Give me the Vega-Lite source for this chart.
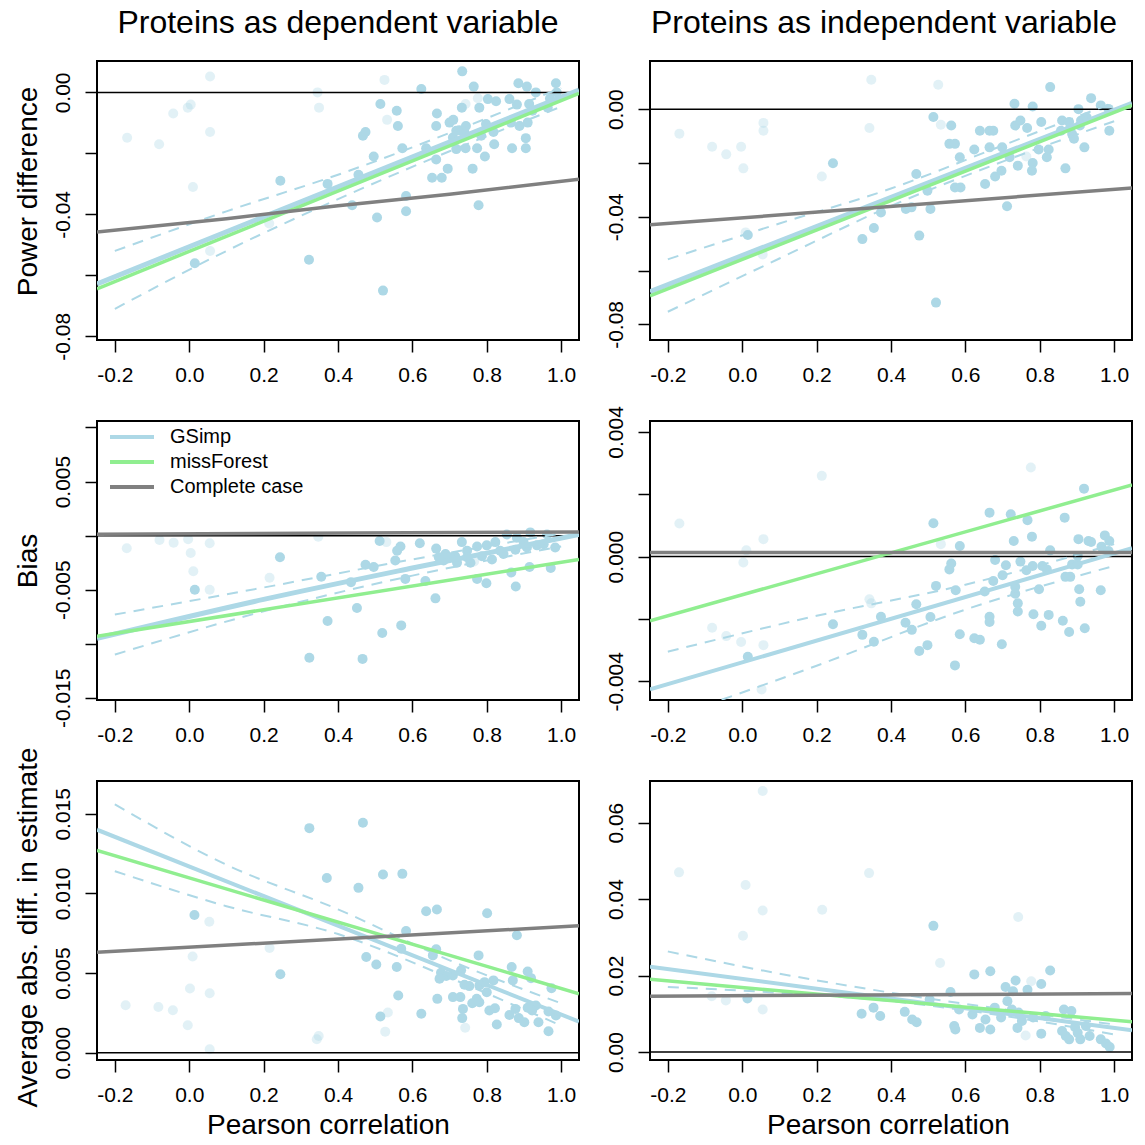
{
"$schema": "https://vega.github.io/schema/vega-lite/v6.json",
"padding": {"left": 12, "top": 6, "right": 8, "bottom": 5},
"config": {
  "font": "Liberation Sans",
  "view": {"stroke": "black", "strokeWidth": 2},
  "axis": {"grid": false, "domain": false, "tickColor": "black", "tickWidth": 1.5, "tickSize": 12, "labelFontSize": 21, "labelColor": "black", "labelFont": "Liberation Sans", "titleFont": "Liberation Sans", "titleFontSize": 28, "titleFontWeight": "normal", "titleColor": "black", "labelPadding": 12, "labelFlush": false, "labelOverlap": false, "labelBound": false},
  "axisY": {"labelAngle": -90, "titlePadding": 10},
  "axisX": {"titlePadding": 6},
  "title": {"fontSize": 32, "fontWeight": "normal", "font": "Liberation Sans", "color": "black", "offset": 21}
},
"datasets": {
  "zero": [{"value": 0}],
  "pts1": [
    {"corr":0.056,"value":0.0052,"weight":"low"},{"corr":-0.167,"value":-0.0149,"weight":"low"},{"corr":-0.081,"value":-0.017,"weight":"low"},{"corr":-0.043,"value":-0.0069,"weight":"low"},{"corr":-0.004,"value":-0.005,"weight":"low"},{"corr":0.004,"value":-0.004,"weight":"low"},{"corr":0.056,"value":-0.013,"weight":"low"},{"corr":0.01,"value":-0.031,"weight":"low"},{"corr":0.056,"value":-0.052,"weight":"low"},{"corr":0.345,"value":0.0,"weight":"low"},{"corr":0.349,"value":-0.005,"weight":"low"},{"corr":0.525,"value":0.0041,"weight":"low"},{"corr":0.532,"value":-0.009,"weight":"low"},{"corr":0.743,"value":-0.0038,"weight":"low"},{"corr":0.776,"value":-0.0019,"weight":"low"},{"corr":0.215,"value":-0.043,"weight":"low"},
    {"corr":0.015,"value":-0.056,"weight":"high"},{"corr":0.245,"value":-0.029,"weight":"high"},{"corr":0.322,"value":-0.0549,"weight":"high"},{"corr":0.372,"value":-0.030,"weight":"high"},{"corr":0.438,"value":-0.037,"weight":"high"},{"corr":0.455,"value":-0.027,"weight":"high"},
    {"corr":0.734,"value":0.0069,"weight":"high"},{"corr":0.624,"value":0.0011,"weight":"high"},{"corr":0.765,"value":0.0019,"weight":"high"},{"corr":0.885,"value":0.003,"weight":"high"},{"corr":0.908,"value":0.0019,"weight":"high"},{"corr":0.986,"value":0.003,"weight":"high"},{"corr":0.932,"value":0.0,"weight":"high"},{"corr":0.514,"value":-0.0038,"weight":"high"},{"corr":0.558,"value":-0.006,"weight":"high"},{"corr":0.561,"value":-0.011,"weight":"high"},{"corr":0.666,"value":-0.0069,"weight":"high"},{"corr":0.733,"value":-0.005,"weight":"high"},{"corr":0.78,"value":-0.005,"weight":"high"},{"corr":0.803,"value":-0.0022,"weight":"high"},{"corr":0.825,"value":-0.0029,"weight":"high"},{"corr":0.861,"value":-0.0022,"weight":"high"},{"corr":0.881,"value":-0.004,"weight":"high"},{"corr":0.914,"value":-0.0038,"weight":"high"},{"corr":0.923,"value":-0.006,"weight":"high"},{"corr":0.964,"value":-0.005,"weight":"high"},{"corr":0.7,"value":-0.0099,"weight":"high"},{"corr":0.71,"value":-0.009,"weight":"high"},{"corr":0.664,"value":-0.011,"weight":"high"},{"corr":0.726,"value":-0.0124,"weight":"high"},{"corr":0.744,"value":-0.011,"weight":"high"},{"corr":0.785,"value":-0.0142,"weight":"high"},{"corr":0.818,"value":-0.013,"weight":"high"},{"corr":0.865,"value":-0.0099,"weight":"high"},{"corr":0.888,"value":-0.011,"weight":"high"},{"corr":0.91,"value":-0.0099,"weight":"high"},{"corr":0.905,"value":-0.015,"weight":"high"},{"corr":0.467,"value":-0.0142,"weight":"high"},{"corr":0.474,"value":-0.013,"weight":"high"},{"corr":0.573,"value":-0.0183,"weight":"high"},{"corr":0.637,"value":-0.0183,"weight":"high"},{"corr":0.718,"value":-0.0186,"weight":"high"},{"corr":0.743,"value":-0.0183,"weight":"high"},{"corr":0.774,"value":-0.0183,"weight":"high"},{"corr":0.82,"value":-0.017,"weight":"high"},{"corr":0.868,"value":-0.0183,"weight":"high"},{"corr":0.905,"value":-0.0183,"weight":"high"},{"corr":0.496,"value":-0.021,"weight":"high"},{"corr":0.664,"value":-0.022,"weight":"high"},{"corr":0.695,"value":-0.025,"weight":"high"},{"corr":0.795,"value":-0.021,"weight":"high"},{"corr":0.762,"value":-0.025,"weight":"high"},{"corr":0.653,"value":-0.028,"weight":"high"},{"corr":0.679,"value":-0.028,"weight":"high"},{"corr":0.583,"value":-0.034,"weight":"high"},{"corr":0.583,"value":-0.039,"weight":"high"},{"corr":0.505,"value":-0.041,"weight":"high"},{"corr":0.778,"value":-0.037,"weight":"high"},{"corr":0.521,"value":-0.065,"weight":"high"},{"corr":0.709,"value":-0.0148,"weight":"high"},{"corr":0.718,"value":-0.0126,"weight":"high"},{"corr":0.798,"value":-0.0104,"weight":"high"},{"corr":0.74,"value":-0.0131,"weight":"high"},{"corr":0.988,"value":0.0,"weight":"high"},{"corr":0.97,"value":-0.002,"weight":"high"}
  ],
  "fit1": [
    {"method":"GSimp","corr":-0.248,"value":-0.0628},{"method":"GSimp","corr":1.048,"value":0.0008},
    {"method":"missForest","corr":-0.248,"value":-0.0644},{"method":"missForest","corr":1.048,"value":-0.0003},
    {"method":"Complete case","corr":-0.248,"value":-0.0458},{"method":"Complete case","corr":0.1,"value":-0.0414},{"method":"Complete case","corr":0.4,"value":-0.0372},{"method":"Complete case","corr":0.7,"value":-0.0334},{"method":"Complete case","corr":1.048,"value":-0.0285}
  ],
  "ci1": [
    {"bound":"upper","corr":-0.2,"value":-0.052},{"bound":"upper","corr":0.1,"value":-0.039},{"bound":"upper","corr":0.4,"value":-0.027},{"bound":"upper","corr":0.7,"value":-0.0133},{"bound":"upper","corr":1.0,"value":0.0015},
    {"bound":"lower","corr":-0.2,"value":-0.071},{"bound":"lower","corr":0.1,"value":-0.052},{"bound":"lower","corr":0.4,"value":-0.035},{"bound":"lower","corr":0.7,"value":-0.0193},{"bound":"lower","corr":1.0,"value":-0.0047}
  ],
  "pts2": [
    {"corr":-0.169,"value":-0.0091,"weight":"low"},{"corr":-0.081,"value":-0.014,"weight":"low"},{"corr":-0.043,"value":-0.0168,"weight":"low"},{"corr":-0.003,"value":-0.014,"weight":"low"},{"corr":0.003,"value":-0.022,"weight":"low"},{"corr":0.057,"value":-0.0051,"weight":"low"},{"corr":0.057,"value":-0.008,"weight":"low"},{"corr":0.214,"value":-0.025,"weight":"low"},{"corr":0.347,"value":0.0109,"weight":"low"},{"corr":0.342,"value":-0.007,"weight":"low"},{"corr":0.527,"value":0.0091,"weight":"low"},{"corr":0.534,"value":-0.0058,"weight":"low"},{"corr":0.055,"value":-0.054,"weight":"low"},{"corr":0.009,"value":-0.0458,"weight":"low"},{"corr":0.764,"value":-0.0176,"weight":"low"},
    {"corr":0.015,"value":-0.0468,"weight":"high"},{"corr":0.244,"value":-0.0201,"weight":"high"},{"corr":0.323,"value":-0.0483,"weight":"high"},{"corr":0.354,"value":-0.0442,"weight":"high"},{"corr":0.373,"value":-0.0384,"weight":"high"},{"corr":0.468,"value":-0.0241,"weight":"high"},{"corr":0.476,"value":-0.047,"weight":"high"},{"corr":0.44,"value":-0.0371,"weight":"high"},{"corr":0.455,"value":-0.0365,"weight":"high"},{"corr":0.498,"value":-0.0303,"weight":"high"},{"corr":0.506,"value":-0.0371,"weight":"high"},{"corr":0.514,"value":-0.0029,"weight":"high"},{"corr":0.521,"value":-0.0719,"weight":"high"},{"corr":0.562,"value":-0.0061,"weight":"high"},{"corr":0.557,"value":-0.0129,"weight":"high"},{"corr":0.572,"value":-0.0129,"weight":"high"},{"corr":0.585,"value":-0.0179,"weight":"high"},{"corr":0.572,"value":-0.0291,"weight":"high"},{"corr":0.587,"value":-0.0291,"weight":"high"},{"corr":0.624,"value":-0.015,"weight":"high"},{"corr":0.639,"value":-0.008,"weight":"high"},{"corr":0.653,"value":-0.0278,"weight":"high"},{"corr":0.665,"value":-0.008,"weight":"high"},{"corr":0.675,"value":-0.008,"weight":"high"},{"corr":0.665,"value":-0.0142,"weight":"high"},{"corr":0.68,"value":-0.025,"weight":"high"},{"corr":0.697,"value":-0.0229,"weight":"high"},{"corr":0.699,"value":-0.0142,"weight":"high"},{"corr":0.712,"value":-0.0361,"weight":"high"},{"corr":0.719,"value":-0.0179,"weight":"high"},{"corr":0.734,"value":-0.0061,"weight":"high"},{"corr":0.732,"value":0.002,"weight":"high"},{"corr":0.748,"value":-0.0042,"weight":"high"},{"corr":0.741,"value":-0.021,"weight":"high"},{"corr":0.766,"value":-0.007,"weight":"high"},{"corr":0.781,"value":0.001,"weight":"high"},{"corr":0.781,"value":-0.02,"weight":"high"},{"corr":0.779,"value":-0.0229,"weight":"high"},{"corr":0.804,"value":-0.0048,"weight":"high"},{"corr":0.797,"value":-0.015,"weight":"high"},{"corr":0.819,"value":-0.0179,"weight":"high"},{"corr":0.824,"value":-0.015,"weight":"high"},{"corr":0.828,"value":0.0082,"weight":"high"},{"corr":0.86,"value":-0.0042,"weight":"high"},{"corr":0.869,"value":-0.022,"weight":"high"},{"corr":0.879,"value":-0.0048,"weight":"high"},{"corr":0.887,"value":-0.0092,"weight":"high"},{"corr":0.892,"value":-0.011,"weight":"high"},{"corr":0.904,"value":0.0,"weight":"high"},{"corr":0.908,"value":-0.0061,"weight":"high"},{"corr":0.92,"value":-0.0142,"weight":"high"},{"corr":0.926,"value":-0.003,"weight":"high"},{"corr":0.938,"value":0.0041,"weight":"high"},{"corr":0.964,"value":0.0014,"weight":"high"},{"corr":0.985,"value":0.0001,"weight":"high"},{"corr":0.987,"value":-0.008,"weight":"high"},{"corr":0.857,"value":-0.008,"weight":"high"},{"corr":0.882,"value":-0.007,"weight":"high"},{"corr":0.911,"value":-0.0042,"weight":"high"}
  ],
  "fit2": [
    {"method":"GSimp","corr":-0.248,"value":-0.0678},{"method":"GSimp","corr":1.048,"value":0.0022},
    {"method":"missForest","corr":-0.248,"value":-0.0694},{"method":"missForest","corr":1.048,"value":0.0014},
    {"method":"Complete case","corr":-0.248,"value":-0.043},{"method":"Complete case","corr":1.048,"value":-0.0293}
  ],
  "ci2": [
    {"bound":"upper","corr":-0.2,"value":-0.0558},{"bound":"upper","corr":0.1,"value":-0.0425},{"bound":"upper","corr":0.4,"value":-0.0295},{"bound":"upper","corr":0.7,"value":-0.0135},{"bound":"upper","corr":1.0,"value":0.0025},
    {"bound":"lower","corr":-0.2,"value":-0.0753},{"bound":"lower","corr":0.1,"value":-0.0555},{"bound":"lower","corr":0.4,"value":-0.036},{"bound":"lower","corr":0.7,"value":-0.0195},{"bound":"lower","corr":1.0,"value":-0.0045}
  ],
  "pts3": [
    {"corr":-0.168,"value":-0.00117,"weight":"low"},{"corr":-0.08,"value":-0.0004,"weight":"low"},{"corr":-0.042,"value":-0.00065,"weight":"low"},{"corr":-0.003,"value":-0.00034,"weight":"low"},{"corr":0.004,"value":-0.0016,"weight":"low"},{"corr":0.011,"value":-0.0033,"weight":"low"},{"corr":0.055,"value":-0.0007,"weight":"low"},{"corr":0.055,"value":-0.005,"weight":"low"},{"corr":0.216,"value":-0.0039,"weight":"low"},{"corr":0.347,"value":-0.0001,"weight":"low"},{"corr":0.53,"value":-0.0006,"weight":"low"},{"corr":0.766,"value":-0.0024,"weight":"low"},
    {"corr":0.015,"value":-0.005,"weight":"high"},{"corr":0.244,"value":-0.002,"weight":"high"},{"corr":0.323,"value":-0.0113,"weight":"high"},{"corr":0.355,"value":-0.0038,"weight":"high"},{"corr":0.372,"value":-0.0079,"weight":"high"},{"corr":0.435,"value":-0.0043,"weight":"high"},
    {"corr":0.512,"value":-0.0005,"weight":"high"},{"corr":0.568,"value":-0.001,"weight":"high"},{"corr":0.559,"value":-0.0014,"weight":"high"},{"corr":0.62,"value":-0.0007,"weight":"high"},{"corr":0.664,"value":-0.0012,"weight":"high"},{"corr":0.554,"value":-0.0023,"weight":"high"},{"corr":0.474,"value":-0.0027,"weight":"high"},{"corr":0.496,"value":-0.0029,"weight":"high"},{"corr":0.581,"value":-0.004,"weight":"high"},{"corr":0.635,"value":-0.0042,"weight":"high"},{"corr":0.662,"value":-0.0058,"weight":"high"},{"corr":0.451,"value":-0.0067,"weight":"high"},{"corr":0.519,"value":-0.009,"weight":"high"},{"corr":0.57,"value":-0.0083,"weight":"high"},{"corr":0.466,"value":-0.0114,"weight":"high"},{"corr":0.733,"value":-0.0006,"weight":"high"},{"corr":0.689,"value":-0.0017,"weight":"high"},{"corr":0.715,"value":-0.0019,"weight":"high"},{"corr":0.747,"value":-0.0014,"weight":"high"},{"corr":0.774,"value":-0.001,"weight":"high"},{"corr":0.8,"value":-0.0009,"weight":"high"},{"corr":0.823,"value":-0.0006,"weight":"high"},{"corr":0.854,"value":0.0001,"weight":"high"},{"corr":0.881,"value":-0.0002,"weight":"high"},{"corr":0.917,"value":0.0003,"weight":"high"},{"corr":0.962,"value":0.0001,"weight":"high"},{"corr":0.984,"value":-0.0011,"weight":"high"},{"corr":0.908,"value":-0.0011,"weight":"high"},{"corr":0.877,"value":-0.0013,"weight":"high"},{"corr":0.845,"value":-0.0017,"weight":"high"},{"corr":0.814,"value":-0.0022,"weight":"high"},{"corr":0.787,"value":-0.0019,"weight":"high"},{"corr":0.756,"value":-0.0025,"weight":"high"},{"corr":0.72,"value":-0.0025,"weight":"high"},{"corr":0.684,"value":-0.0023,"weight":"high"},{"corr":0.671,"value":-0.002,"weight":"high"},{"corr":0.774,"value":-0.004,"weight":"high"},{"corr":0.799,"value":-0.0044,"weight":"high"},{"corr":0.866,"value":-0.0034,"weight":"high"},{"corr":0.878,"value":-0.0047,"weight":"high"},{"corr":0.915,"value":-0.0029,"weight":"high"},{"corr":0.972,"value":-0.003,"weight":"high"},{"corr":0.747,"value":-0.002,"weight":"high"},{"corr":0.935,"value":-0.0009,"weight":"high"},{"corr":0.836,"value":-0.0014,"weight":"high"},{"corr":0.953,"value":-0.0008,"weight":"high"},{"corr":0.899,"value":-0.0006,"weight":"high"},{"corr":0.702,"value":-0.002,"weight":"high"}
  ],
  "fit3": [
    {"method":"GSimp","corr":-0.248,"value":-0.0095},{"method":"GSimp","corr":0.2,"value":-0.0059},{"method":"GSimp","corr":0.6,"value":-0.003},{"method":"GSimp","corr":1.048,"value":0.0001},
    {"method":"missForest","corr":-0.248,"value":-0.0093},{"method":"missForest","corr":1.048,"value":-0.0022},
    {"method":"Complete case","corr":-0.248,"value":0.00012},{"method":"Complete case","corr":1.048,"value":0.00034}
  ],
  "ci3": [
    {"bound":"upper","corr":-0.2,"value":-0.0073},{"bound":"upper","corr":0.2,"value":-0.0048},{"bound":"upper","corr":0.6,"value":-0.0022},{"bound":"upper","corr":1.0,"value":0.0002},
    {"bound":"lower","corr":-0.2,"value":-0.011},{"bound":"lower","corr":0.2,"value":-0.007},{"bound":"lower","corr":0.6,"value":-0.0037},{"bound":"lower","corr":1.0,"value":-0.001}
  ],
  "pts4": [
    {"corr":-0.169,"value":0.00106,"weight":"low"},{"corr":-0.081,"value":-0.00228,"weight":"low"},{"corr":-0.043,"value":-0.00255,"weight":"low"},{"corr":-0.003,"value":-0.00274,"weight":"low"},{"corr":0.003,"value":-0.00019,"weight":"low"},{"corr":0.011,"value":0.0002,"weight":"low"},{"corr":0.057,"value":0.00056,"weight":"low"},{"corr":0.057,"value":-0.00284,"weight":"low"},{"corr":0.052,"value":-0.00426,"weight":"low"},{"corr":0.214,"value":0.00259,"weight":"low"},{"corr":0.342,"value":-0.00137,"weight":"low"},{"corr":0.347,"value":-0.0015,"weight":"low"},{"corr":0.534,"value":0.0004,"weight":"low"},{"corr":0.776,"value":0.00286,"weight":"low"},
    {"corr":0.015,"value":-0.00321,"weight":"high"},{"corr":0.244,"value":-0.00217,"weight":"high"},{"corr":0.323,"value":-0.00251,"weight":"high"},{"corr":0.354,"value":-0.00273,"weight":"high"},{"corr":0.373,"value":-0.00193,"weight":"high"},{"corr":0.439,"value":-0.00212,"weight":"high"},{"corr":0.456,"value":-0.00235,"weight":"high"},{"corr":0.468,"value":-0.00153,"weight":"high"},{"corr":0.476,"value":-0.00303,"weight":"high"},{"corr":0.498,"value":-0.00284,"weight":"high"},{"corr":0.506,"value":-0.00194,"weight":"high"},{"corr":0.514,"value":0.00107,"weight":"high"},{"corr":0.521,"value":-0.00094,"weight":"high"},{"corr":0.557,"value":-0.00041,"weight":"high"},{"corr":0.562,"value":-0.00022,"weight":"high"},{"corr":0.574,"value":-0.00108,"weight":"high"},{"corr":0.572,"value":-0.00349,"weight":"high"},{"corr":0.585,"value":0.00034,"weight":"high"},{"corr":0.585,"value":-0.00249,"weight":"high"},{"corr":0.624,"value":-0.00262,"weight":"high"},{"corr":0.639,"value":-0.00267,"weight":"high"},{"corr":0.652,"value":-0.00112,"weight":"high"},{"corr":0.665,"value":0.00141,"weight":"high"},{"corr":0.665,"value":-0.00193,"weight":"high"},{"corr":0.665,"value":-0.0021,"weight":"high"},{"corr":0.675,"value":-0.00078,"weight":"high"},{"corr":0.68,"value":-0.00011,"weight":"high"},{"corr":0.698,"value":-0.00281,"weight":"high"},{"corr":0.7,"value":-0.0006,"weight":"high"},{"corr":0.709,"value":-0.00028,"weight":"high"},{"corr":0.722,"value":0.00136,"weight":"high"},{"corr":0.73,"value":0.0005,"weight":"high"},{"corr":0.734,"value":-0.00097,"weight":"high"},{"corr":0.734,"value":-0.00119,"weight":"high"},{"corr":0.741,"value":-0.0015,"weight":"high"},{"corr":0.741,"value":-0.00176,"weight":"high"},{"corr":0.748,"value":-0.00016,"weight":"high"},{"corr":0.764,"value":-0.00044,"weight":"high"},{"corr":0.767,"value":0.00117,"weight":"high"},{"corr":0.779,"value":0.00064,"weight":"high"},{"corr":0.781,"value":-0.0003,"weight":"high"},{"corr":0.783,"value":-0.00185,"weight":"high"},{"corr":0.798,"value":-0.00105,"weight":"high"},{"corr":0.804,"value":-0.00222,"weight":"high"},{"corr":0.807,"value":-0.0003,"weight":"high"},{"corr":0.819,"value":-0.00041,"weight":"high"},{"corr":0.824,"value":-0.00187,"weight":"high"},{"corr":0.828,"value":0.0002,"weight":"high"},{"corr":0.862,"value":-0.00206,"weight":"high"},{"corr":0.867,"value":0.00125,"weight":"high"},{"corr":0.869,"value":-0.00065,"weight":"high"},{"corr":0.879,"value":-0.00242,"weight":"high"},{"corr":0.882,"value":-0.00065,"weight":"high"},{"corr":0.887,"value":-0.00025,"weight":"high"},{"corr":0.902,"value":0.00002,"weight":"high"},{"corr":0.904,"value":0.00056,"weight":"high"},{"corr":0.906,"value":-0.00105,"weight":"high"},{"corr":0.909,"value":-0.00145,"weight":"high"},{"corr":0.919,"value":0.00218,"weight":"high"},{"corr":0.921,"value":-0.0023,"weight":"high"},{"corr":0.931,"value":0.0005,"weight":"high"},{"corr":0.938,"value":0.00047,"weight":"high"},{"corr":0.964,"value":-0.00108,"weight":"high"},{"corr":0.966,"value":0.00032,"weight":"high"},{"corr":0.975,"value":0.00068,"weight":"high"},{"corr":0.987,"value":0.0005,"weight":"high"},{"corr":0.985,"value":0.00018,"weight":"high"},{"corr":0.902,"value":-0.00025,"weight":"high"}
  ],
  "fit4": [
    {"method":"GSimp","corr":-0.248,"value":-0.00426},{"method":"GSimp","corr":1.048,"value":0.00027},
    {"method":"missForest","corr":-0.248,"value":-0.00206},{"method":"missForest","corr":1.048,"value":0.0023},
    {"method":"Complete case","corr":-0.248,"value":0.00013},{"method":"Complete case","corr":1.048,"value":0.00013}
  ],
  "ci4": [
    {"bound":"upper","corr":-0.2,"value":-0.00305},{"bound":"upper","corr":0.2,"value":-0.0019},{"bound":"upper","corr":0.6,"value":-0.0009},{"bound":"upper","corr":1.0,"value":0.0004},
    {"bound":"lower","corr":-0.2,"value":-0.0052},{"bound":"lower","corr":0.2,"value":-0.0035},{"bound":"lower","corr":0.6,"value":-0.0017},{"bound":"lower","corr":1.0,"value":-0.0003}
  ],
  "pts5": [
    {"corr":-0.171,"value":0.00298,"weight":"low"},{"corr":-0.083,"value":0.00287,"weight":"low"},{"corr":-0.044,"value":0.00266,"weight":"low"},{"corr":-0.004,"value":0.00172,"weight":"low"},{"corr":0.002,"value":0.00403,"weight":"low"},{"corr":0.009,"value":0.00604,"weight":"low"},{"corr":0.054,"value":0.00822,"weight":"low"},{"corr":0.055,"value":0.00373,"weight":"low"},{"corr":0.055,"value":0.00021,"weight":"low"},{"corr":0.216,"value":0.00657,"weight":"low"},{"corr":0.348,"value":0.00105,"weight":"low"},{"corr":0.343,"value":0.00084,"weight":"low"},{"corr":0.527,"value":0.00132,"weight":"low"},{"corr":0.534,"value":0.00252,"weight":"low"},{"corr":0.742,"value":0.00157,"weight":"low"},
    {"corr":0.014,"value":0.00864,"weight":"high"},{"corr":0.245,"value":0.00493,"weight":"high"},{"corr":0.323,"value":0.0141,"weight":"high"},{"corr":0.37,"value":0.01097,"weight":"high"},{"corr":0.467,"value":0.01444,"weight":"high"},
    {"corr":0.521,"value":0.01119,"weight":"high"},{"corr":0.573,"value":0.01123,"weight":"high"},{"corr":0.455,"value":0.01035,"weight":"high"},{"corr":0.637,"value":0.00888,"weight":"high"},{"corr":0.666,"value":0.00899,"weight":"high"},{"corr":0.801,"value":0.00875,"weight":"high"},{"corr":0.881,"value":0.00737,"weight":"high"},{"corr":0.583,"value":0.00764,"weight":"high"},{"corr":0.57,"value":0.00653,"weight":"high"},{"corr":0.664,"value":0.00649,"weight":"high"},{"corr":0.778,"value":0.00611,"weight":"high"},{"corr":0.476,"value":0.00601,"weight":"high"},{"corr":0.503,"value":0.00554,"weight":"high"},{"corr":0.558,"value":0.00538,"weight":"high"},{"corr":0.655,"value":0.00611,"weight":"high"},{"corr":0.677,"value":0.00502,"weight":"high"},{"corr":0.691,"value":0.00481,"weight":"high"},{"corr":0.709,"value":0.00485,"weight":"high"},{"corr":0.731,"value":0.00517,"weight":"high"},{"corr":0.673,"value":0.00464,"weight":"high"},{"corr":0.74,"value":0.00427,"weight":"high"},{"corr":0.753,"value":0.00418,"weight":"high"},{"corr":0.78,"value":0.00422,"weight":"high"},{"corr":0.794,"value":0.00443,"weight":"high"},{"corr":0.818,"value":0.00454,"weight":"high"},{"corr":0.867,"value":0.00538,"weight":"high"},{"corr":0.91,"value":0.0051,"weight":"high"},{"corr":0.919,"value":0.00468,"weight":"high"},{"corr":0.87,"value":0.00454,"weight":"high"},{"corr":0.562,"value":0.00359,"weight":"high"},{"corr":0.667,"value":0.00338,"weight":"high"},{"corr":0.709,"value":0.00349,"weight":"high"},{"corr":0.729,"value":0.00349,"weight":"high"},{"corr":0.773,"value":0.00338,"weight":"high"},{"corr":0.8,"value":0.0038,"weight":"high"},{"corr":0.736,"value":0.00275,"weight":"high"},{"corr":0.761,"value":0.0031,"weight":"high"},{"corr":0.78,"value":0.00317,"weight":"high"},{"corr":0.807,"value":0.00265,"weight":"high"},{"corr":0.822,"value":0.00279,"weight":"high"},{"corr":0.514,"value":0.00227,"weight":"high"},{"corr":0.624,"value":0.00244,"weight":"high"},{"corr":0.734,"value":0.00217,"weight":"high"},{"corr":0.827,"value":0.00177,"weight":"high"},{"corr":0.861,"value":0.00237,"weight":"high"},{"corr":0.886,"value":0.00217,"weight":"high"},{"corr":0.901,"value":0.00191,"weight":"high"},{"corr":0.932,"value":0.00296,"weight":"high"},{"corr":0.939,"value":0.00191,"weight":"high"},{"corr":0.966,"value":0.00258,"weight":"high"},{"corr":0.986,"value":0.00233,"weight":"high"},{"corr":0.974,"value":0.00405,"weight":"high"},{"corr":0.966,"value":0.00135,"weight":"high"},{"corr":0.922,"value":0.00265,"weight":"high"},{"corr":0.91,"value":0.00282,"weight":"high"},{"corr":0.877,"value":0.00275,"weight":"high"}
  ],
  "fit5": [
    {"method":"GSimp","corr":-0.248,"value":0.014},{"method":"GSimp","corr":1.048,"value":0.00195},
    {"method":"missForest","corr":-0.248,"value":0.0127},{"method":"missForest","corr":1.048,"value":0.0037},
    {"method":"Complete case","corr":-0.248,"value":0.0063},{"method":"Complete case","corr":1.048,"value":0.00797}
  ],
  "ci5": [
    {"bound":"upper","corr":-0.2,"value":0.0156},{"bound":"upper","corr":0.1,"value":0.0118},{"bound":"upper","corr":0.4,"value":0.009},{"bound":"upper","corr":0.7,"value":0.0058},{"bound":"upper","corr":1.0,"value":0.0031},
    {"bound":"lower","corr":-0.2,"value":0.0114},{"bound":"lower","corr":0.1,"value":0.0092},{"bound":"lower","corr":0.4,"value":0.00745},{"bound":"lower","corr":0.7,"value":0.0047},{"bound":"lower","corr":1.0,"value":0.0017}
  ],
  "pts6": [
    {"corr":-0.17,"value":0.047,"weight":"low"},{"corr":0.009,"value":0.0437,"weight":"low"},{"corr":0.002,"value":0.0304,"weight":"low"},{"corr":0.055,"value":0.0683,"weight":"low"},{"corr":0.055,"value":0.037,"weight":"low"},{"corr":0.055,"value":0.0111,"weight":"low"},{"corr":0.215,"value":0.0372,"weight":"low"},{"corr":0.341,"value":0.0468,"weight":"low"},{"corr":0.532,"value":0.0233,"weight":"low"},{"corr":0.742,"value":0.0353,"weight":"low"},{"corr":0.777,"value":0.0185,"weight":"low"},{"corr":0.762,"value":0.0043,"weight":"low"},{"corr":-0.082,"value":0.0146,"weight":"low"},{"corr":-0.044,"value":0.0135,"weight":"low"},
    {"corr":0.014,"value":0.014,"weight":"high"},{"corr":0.321,"value":0.01,"weight":"high"},{"corr":0.353,"value":0.0116,"weight":"high"},{"corr":0.371,"value":0.0094,"weight":"high"},{"corr":0.437,"value":0.0105,"weight":"high"},{"corr":0.457,"value":0.0085,"weight":"high"},{"corr":0.469,"value":0.0078,"weight":"high"},{"corr":0.514,"value":0.033,"weight":"high"},{"corr":0.504,"value":0.0137,"weight":"high"},{"corr":0.56,"value":0.0157,"weight":"high"},{"corr":0.57,"value":0.0068,"weight":"high"},{"corr":0.573,"value":0.0059,"weight":"high"},{"corr":0.583,"value":0.0111,"weight":"high"},{"corr":0.624,"value":0.0203,"weight":"high"},{"corr":0.639,"value":0.0063,"weight":"high"},{"corr":0.667,"value":0.0211,"weight":"high"},{"corr":0.667,"value":0.0059,"weight":"high"},{"corr":0.654,"value":0.0085,"weight":"high"},{"corr":0.679,"value":0.0116,"weight":"high"},{"corr":0.696,"value":0.009,"weight":"high"},{"corr":0.708,"value":0.017,"weight":"high"},{"corr":0.713,"value":0.0133,"weight":"high"},{"corr":0.728,"value":0.0159,"weight":"high"},{"corr":0.735,"value":0.0187,"weight":"high"},{"corr":0.74,"value":0.0063,"weight":"high"},{"corr":0.743,"value":0.0103,"weight":"high"},{"corr":0.767,"value":0.0163,"weight":"high"},{"corr":0.782,"value":0.009,"weight":"high"},{"corr":0.804,"value":0.0178,"weight":"high"},{"corr":0.804,"value":0.0048,"weight":"high"},{"corr":0.816,"value":0.0094,"weight":"high"},{"corr":0.828,"value":0.0213,"weight":"high"},{"corr":0.865,"value":0.0111,"weight":"high"},{"corr":0.87,"value":0.0042,"weight":"high"},{"corr":0.879,"value":0.0033,"weight":"high"},{"corr":0.885,"value":0.0107,"weight":"high"},{"corr":0.895,"value":0.0065,"weight":"high"},{"corr":0.909,"value":0.0033,"weight":"high"},{"corr":0.924,"value":0.0068,"weight":"high"},{"corr":0.934,"value":0.0042,"weight":"high"},{"corr":0.964,"value":0.0033,"weight":"high"},{"corr":0.978,"value":0.0022,"weight":"high"},{"corr":0.988,"value":0.0013,"weight":"high"},{"corr":0.902,"value":0.005,"weight":"high"},{"corr":0.86,"value":0.0055,"weight":"high"},{"corr":0.725,"value":0.0111,"weight":"high"},{"corr":0.619,"value":0.0098,"weight":"high"},{"corr":0.752,"value":0.0081,"weight":"high"}
  ],
  "fit6": [
    {"method":"GSimp","corr":-0.248,"value":0.0223},{"method":"GSimp","corr":1.048,"value":0.0057},
    {"method":"missForest","corr":-0.248,"value":0.019},{"method":"missForest","corr":1.048,"value":0.0079},
    {"method":"Complete case","corr":-0.248,"value":0.0146},{"method":"Complete case","corr":1.048,"value":0.0153}
  ],
  "ci6": [
    {"bound":"upper","corr":-0.2,"value":0.0263},{"bound":"upper","corr":0.1,"value":0.0205},{"bound":"upper","corr":0.4,"value":0.0155},{"bound":"upper","corr":0.7,"value":0.0112},{"bound":"upper","corr":1.0,"value":0.0072},
    {"bound":"lower","corr":-0.2,"value":0.017},{"bound":"lower","corr":0.1,"value":0.0155},{"bound":"lower","corr":0.4,"value":0.0133},{"bound":"lower","corr":0.7,"value":0.0095},{"bound":"lower","corr":1.0,"value":0.0046}
  ]
},
"columns": 2,
"spacing": {"row": 81, "column": 71},
"bounds": "flush",
"resolve": {"scale": {"color": "independent"}, "legend": {"color": "independent"}},
"concat": [
  {
    "width": 482, "height": 279,
    "title": {"text": "Proteins as dependent variable"},
    "layer": [
      {"data": {"name": "pts1"}, "mark": {"type": "circle", "size": 100}, "encoding": {
        "x": {"field": "corr", "type": "quantitative", "scale": {"domain": [-0.248, 1.048], "nice": false, "zero": false}, "axis": {"title": null, "values": [-0.2, 0, 0.2, 0.4, 0.6, 0.8, 1.0], "labelExpr": "replace(format(datum.value, '.1f'), '\u2212', '-')"}},
        "y": {"field": "value", "type": "quantitative", "scale": {"domain": [-0.0812, 0.0103], "nice": false, "zero": false}, "axis": {"title": "Power difference", "titleY": 130, "values": [-0.08, -0.06, -0.04, -0.02, 0], "labelExpr": "abs(round(datum.value*100)) % 4 == 0 ? replace(format(datum.value, '.2f'), '\u2212', '-') : ''"}},
        "color": {"value": "#ADD8E6"},
        "opacity": {"field": "weight", "type": "nominal", "scale": {"domain": ["low", "high"], "range": [0.35, 1]}, "legend": null}}},
      {"data": {"name": "zero"}, "mark": {"type": "rule", "color": "black", "strokeWidth": 1.5}, "encoding": {"y": {"field": "value", "type": "quantitative"}}},
      {"data": {"name": "ci1"}, "mark": {"type": "line", "color": "#ADD8E6", "strokeWidth": 2, "strokeDash": [11, 8], "clip": true, "interpolate": "monotone"}, "encoding": {"x": {"field": "corr", "type": "quantitative"}, "y": {"field": "value", "type": "quantitative"}, "detail": {"field": "bound"}}},
      {"data": {"name": "fit1"}, "transform": [{"filter": "datum.method == 'GSimp'"}], "mark": {"type": "line", "color": "#ADD8E6", "strokeWidth": 5, "clip": true}, "encoding": {"x": {"field": "corr", "type": "quantitative"}, "y": {"field": "value", "type": "quantitative"}}},
      {"data": {"name": "fit1"}, "transform": [{"filter": "datum.method == 'missForest'"}], "mark": {"type": "line", "color": "#90EE90", "strokeWidth": 3.5, "clip": true}, "encoding": {"x": {"field": "corr", "type": "quantitative"}, "y": {"field": "value", "type": "quantitative"}}},
      {"data": {"name": "fit1"}, "transform": [{"filter": "datum.method == 'Complete case'"}], "mark": {"type": "line", "color": "#808080", "strokeWidth": 3.5, "clip": true, "interpolate": "monotone"}, "encoding": {"x": {"field": "corr", "type": "quantitative"}, "y": {"field": "value", "type": "quantitative"}}}
    ]
  },
  {
    "width": 482, "height": 279,
    "title": {"text": "Proteins as independent variable", "dx": -7},
    "layer": [
      {"data": {"name": "pts2"}, "mark": {"type": "circle", "size": 100}, "encoding": {
        "x": {"field": "corr", "type": "quantitative", "scale": {"domain": [-0.248, 1.048], "nice": false, "zero": false}, "axis": {"title": null, "values": [-0.2, 0, 0.2, 0.4, 0.6, 0.8, 1.0], "labelExpr": "replace(format(datum.value, '.1f'), '\u2212', '-')"}},
        "y": {"field": "value", "type": "quantitative", "scale": {"domain": [-0.0858, 0.0179], "nice": false, "zero": false}, "axis": {"title": null, "values": [-0.08, -0.06, -0.04, -0.02, 0], "labelExpr": "abs(round(datum.value*100)) % 4 == 0 ? replace(format(datum.value, '.2f'), '\u2212', '-') : ''"}},
        "color": {"value": "#ADD8E6"},
        "opacity": {"field": "weight", "type": "nominal", "scale": {"domain": ["low", "high"], "range": [0.35, 1]}, "legend": null}}},
      {"data": {"name": "zero"}, "mark": {"type": "rule", "color": "black", "strokeWidth": 1.5}, "encoding": {"y": {"field": "value", "type": "quantitative"}}},
      {"data": {"name": "ci2"}, "mark": {"type": "line", "color": "#ADD8E6", "strokeWidth": 2, "strokeDash": [11, 8], "clip": true, "interpolate": "monotone"}, "encoding": {"x": {"field": "corr", "type": "quantitative"}, "y": {"field": "value", "type": "quantitative"}, "detail": {"field": "bound"}}},
      {"data": {"name": "fit2"}, "transform": [{"filter": "datum.method == 'GSimp'"}], "mark": {"type": "line", "color": "#ADD8E6", "strokeWidth": 5, "clip": true}, "encoding": {"x": {"field": "corr", "type": "quantitative"}, "y": {"field": "value", "type": "quantitative"}}},
      {"data": {"name": "fit2"}, "transform": [{"filter": "datum.method == 'missForest'"}], "mark": {"type": "line", "color": "#90EE90", "strokeWidth": 3.5, "clip": true}, "encoding": {"x": {"field": "corr", "type": "quantitative"}, "y": {"field": "value", "type": "quantitative"}}},
      {"data": {"name": "fit2"}, "transform": [{"filter": "datum.method == 'Complete case'"}], "mark": {"type": "line", "color": "#808080", "strokeWidth": 3.5, "clip": true}, "encoding": {"x": {"field": "corr", "type": "quantitative"}, "y": {"field": "value", "type": "quantitative"}}}
    ]
  },
  {
    "width": 482, "height": 279,
    "layer": [
      {"data": {"name": "pts3"}, "mark": {"type": "circle", "size": 100}, "encoding": {
        "x": {"field": "corr", "type": "quantitative", "scale": {"domain": [-0.248, 1.048], "nice": false, "zero": false}, "axis": {"title": null, "values": [-0.2, 0, 0.2, 0.4, 0.6, 0.8, 1.0], "labelExpr": "replace(format(datum.value, '.1f'), '\u2212', '-')"}},
        "y": {"field": "value", "type": "quantitative", "scale": {"domain": [-0.0152, 0.0106], "nice": false, "zero": false}, "axis": {"title": "Bias", "values": [-0.015, -0.01, -0.005, 0, 0.005, 0.01], "labelExpr": "abs(round(datum.value*1000)) % 10 == 5 ? replace(format(datum.value, '.3f'), '\u2212', '-') : ''"}},
        "color": {"value": "#ADD8E6"},
        "opacity": {"field": "weight", "type": "nominal", "scale": {"domain": ["low", "high"], "range": [0.35, 1]}, "legend": null}}},
      {"data": {"name": "zero"}, "mark": {"type": "rule", "color": "black", "strokeWidth": 1.5}, "encoding": {"y": {"field": "value", "type": "quantitative"}}},
      {"data": {"name": "ci3"}, "mark": {"type": "line", "color": "#ADD8E6", "strokeWidth": 2, "strokeDash": [11, 8], "clip": true, "interpolate": "monotone"}, "encoding": {"x": {"field": "corr", "type": "quantitative"}, "y": {"field": "value", "type": "quantitative"}, "detail": {"field": "bound"}}},
      {"data": {"name": "fit3"}, "transform": [{"filter": "datum.method == 'GSimp'"}], "mark": {"type": "line", "strokeWidth": 5, "clip": true, "interpolate": "monotone"}, "encoding": {"x": {"field": "corr", "type": "quantitative"}, "y": {"field": "value", "type": "quantitative"},
        "color": {"field": "method", "type": "nominal", "scale": {"domain": ["GSimp", "missForest", "Complete case"], "range": ["#ADD8E6", "#90EE90", "#808080"]}, "legend": {"title": null, "orient": "none", "legendX": 25, "legendY": 6, "padding": 0, "symbolType": "M-4,0H4", "symbolSize": 121, "symbolStrokeWidth": 4, "labelFontSize": 20, "labelOffset": 28, "rowPadding": 5, "labelFont": "Liberation Sans", "labelColor": "black"}}}},
      {"data": {"name": "fit3"}, "transform": [{"filter": "datum.method == 'missForest'"}], "mark": {"type": "line", "strokeWidth": 3.5, "clip": true}, "encoding": {"x": {"field": "corr", "type": "quantitative"}, "y": {"field": "value", "type": "quantitative"},
        "color": {"field": "method", "type": "nominal", "scale": {"domain": ["GSimp", "missForest", "Complete case"], "range": ["#ADD8E6", "#90EE90", "#808080"]}, "legend": {"title": null, "orient": "none", "legendX": 25, "legendY": 6, "padding": 0, "symbolType": "M-4,0H4", "symbolSize": 121, "symbolStrokeWidth": 4, "labelFontSize": 20, "labelOffset": 28, "rowPadding": 5, "labelFont": "Liberation Sans", "labelColor": "black"}}}},
      {"data": {"name": "fit3"}, "transform": [{"filter": "datum.method == 'Complete case'"}], "mark": {"type": "line", "strokeWidth": 3.5, "clip": true}, "encoding": {"x": {"field": "corr", "type": "quantitative"}, "y": {"field": "value", "type": "quantitative"},
        "color": {"field": "method", "type": "nominal", "scale": {"domain": ["GSimp", "missForest", "Complete case"], "range": ["#ADD8E6", "#90EE90", "#808080"]}, "legend": {"title": null, "orient": "none", "legendX": 25, "legendY": 6, "padding": 0, "symbolType": "M-4,0H4", "symbolSize": 121, "symbolStrokeWidth": 4, "labelFontSize": 20, "labelOffset": 28, "rowPadding": 5, "labelFont": "Liberation Sans", "labelColor": "black"}}}}
    ]
  },
  {
    "width": 482, "height": 279,
    "layer": [
      {"data": {"name": "pts4"}, "mark": {"type": "circle", "size": 100}, "encoding": {
        "x": {"field": "corr", "type": "quantitative", "scale": {"domain": [-0.248, 1.048], "nice": false, "zero": false}, "axis": {"title": null, "values": [-0.2, 0, 0.2, 0.4, 0.6, 0.8, 1.0], "labelExpr": "replace(format(datum.value, '.1f'), '\u2212', '-')"}},
        "y": {"field": "value", "type": "quantitative", "scale": {"domain": [-0.0046, 0.00435], "nice": false, "zero": false}, "axis": {"title": null, "values": [-0.004, -0.002, 0, 0.002, 0.004], "labelExpr": "abs(round(datum.value*1000)) % 4 == 0 ? replace(format(datum.value, '.3f'), '\u2212', '-') : ''"}},
        "color": {"value": "#ADD8E6"},
        "opacity": {"field": "weight", "type": "nominal", "scale": {"domain": ["low", "high"], "range": [0.35, 1]}, "legend": null}}},
      {"data": {"name": "zero"}, "mark": {"type": "rule", "color": "black", "strokeWidth": 1.5}, "encoding": {"y": {"field": "value", "type": "quantitative"}}},
      {"data": {"name": "ci4"}, "mark": {"type": "line", "color": "#ADD8E6", "strokeWidth": 2, "strokeDash": [11, 8], "clip": true, "interpolate": "monotone"}, "encoding": {"x": {"field": "corr", "type": "quantitative"}, "y": {"field": "value", "type": "quantitative"}, "detail": {"field": "bound"}}},
      {"data": {"name": "fit4"}, "transform": [{"filter": "datum.method == 'GSimp'"}], "mark": {"type": "line", "color": "#ADD8E6", "strokeWidth": 4, "clip": true}, "encoding": {"x": {"field": "corr", "type": "quantitative"}, "y": {"field": "value", "type": "quantitative"}}},
      {"data": {"name": "fit4"}, "transform": [{"filter": "datum.method == 'missForest'"}], "mark": {"type": "line", "color": "#90EE90", "strokeWidth": 3.5, "clip": true}, "encoding": {"x": {"field": "corr", "type": "quantitative"}, "y": {"field": "value", "type": "quantitative"}}},
      {"data": {"name": "fit4"}, "transform": [{"filter": "datum.method == 'Complete case'"}], "mark": {"type": "line", "color": "#808080", "strokeWidth": 3.5, "clip": true}, "encoding": {"x": {"field": "corr", "type": "quantitative"}, "y": {"field": "value", "type": "quantitative"}}}
    ]
  },
  {
    "width": 482, "height": 279,
    "layer": [
      {"data": {"name": "pts5"}, "mark": {"type": "circle", "size": 100}, "encoding": {
        "x": {"field": "corr", "type": "quantitative", "scale": {"domain": [-0.248, 1.048], "nice": false, "zero": false}, "axis": {"title": "Pearson correlation", "titleX": 231, "values": [-0.2, 0, 0.2, 0.4, 0.6, 0.8, 1.0], "labelExpr": "replace(format(datum.value, '.1f'), '\u2212', '-')"}},
        "y": {"field": "value", "type": "quantitative", "scale": {"domain": [-0.00046, 0.01706], "nice": false, "zero": false}, "axis": {"title": "Average abs. diff. in estimate", "titleY": 146, "values": [0, 0.005, 0.01, 0.015], "labelExpr": "format(datum.value, '.3f')"}},
        "color": {"value": "#ADD8E6"},
        "opacity": {"field": "weight", "type": "nominal", "scale": {"domain": ["low", "high"], "range": [0.35, 1]}, "legend": null}}},
      {"data": {"name": "zero"}, "mark": {"type": "rule", "color": "black", "strokeWidth": 1.5}, "encoding": {"y": {"field": "value", "type": "quantitative"}}},
      {"data": {"name": "ci5"}, "mark": {"type": "line", "color": "#ADD8E6", "strokeWidth": 2, "strokeDash": [11, 8], "clip": true, "interpolate": "monotone"}, "encoding": {"x": {"field": "corr", "type": "quantitative"}, "y": {"field": "value", "type": "quantitative"}, "detail": {"field": "bound"}}},
      {"data": {"name": "fit5"}, "transform": [{"filter": "datum.method == 'GSimp'"}], "mark": {"type": "line", "color": "#ADD8E6", "strokeWidth": 4, "clip": true}, "encoding": {"x": {"field": "corr", "type": "quantitative"}, "y": {"field": "value", "type": "quantitative"}}},
      {"data": {"name": "fit5"}, "transform": [{"filter": "datum.method == 'missForest'"}], "mark": {"type": "line", "color": "#90EE90", "strokeWidth": 3.5, "clip": true}, "encoding": {"x": {"field": "corr", "type": "quantitative"}, "y": {"field": "value", "type": "quantitative"}}},
      {"data": {"name": "fit5"}, "transform": [{"filter": "datum.method == 'Complete case'"}], "mark": {"type": "line", "color": "#808080", "strokeWidth": 3.5, "clip": true}, "encoding": {"x": {"field": "corr", "type": "quantitative"}, "y": {"field": "value", "type": "quantitative"}}}
    ]
  },
  {
    "width": 482, "height": 279,
    "layer": [
      {"data": {"name": "pts6"}, "mark": {"type": "circle", "size": 100}, "encoding": {
        "x": {"field": "corr", "type": "quantitative", "scale": {"domain": [-0.248, 1.048], "nice": false, "zero": false}, "axis": {"title": "Pearson correlation", "titleX": 238, "values": [-0.2, 0, 0.2, 0.4, 0.6, 0.8, 1.0], "labelExpr": "replace(format(datum.value, '.1f'), '\u2212', '-')"}},
        "y": {"field": "value", "type": "quantitative", "scale": {"domain": [-0.0021, 0.0709], "nice": false, "zero": false}, "axis": {"title": null, "values": [0, 0.01, 0.02, 0.03, 0.04, 0.05, 0.06, 0.07], "labelExpr": "round(datum.value*100) % 2 == 0 ? format(datum.value, '.2f') : ''"}},
        "color": {"value": "#ADD8E6"},
        "opacity": {"field": "weight", "type": "nominal", "scale": {"domain": ["low", "high"], "range": [0.35, 1]}, "legend": null}}},
      {"data": {"name": "zero"}, "mark": {"type": "rule", "color": "black", "strokeWidth": 1.5}, "encoding": {"y": {"field": "value", "type": "quantitative"}}},
      {"data": {"name": "ci6"}, "mark": {"type": "line", "color": "#ADD8E6", "strokeWidth": 2, "strokeDash": [11, 8], "clip": true, "interpolate": "monotone"}, "encoding": {"x": {"field": "corr", "type": "quantitative"}, "y": {"field": "value", "type": "quantitative"}, "detail": {"field": "bound"}}},
      {"data": {"name": "fit6"}, "transform": [{"filter": "datum.method == 'GSimp'"}], "mark": {"type": "line", "color": "#ADD8E6", "strokeWidth": 4, "clip": true}, "encoding": {"x": {"field": "corr", "type": "quantitative"}, "y": {"field": "value", "type": "quantitative"}}},
      {"data": {"name": "fit6"}, "transform": [{"filter": "datum.method == 'missForest'"}], "mark": {"type": "line", "color": "#90EE90", "strokeWidth": 3.5, "clip": true}, "encoding": {"x": {"field": "corr", "type": "quantitative"}, "y": {"field": "value", "type": "quantitative"}}},
      {"data": {"name": "fit6"}, "transform": [{"filter": "datum.method == 'Complete case'"}], "mark": {"type": "line", "color": "#808080", "strokeWidth": 3.5, "clip": true}, "encoding": {"x": {"field": "corr", "type": "quantitative"}, "y": {"field": "value", "type": "quantitative"}}}
    ]
  }
]
}
